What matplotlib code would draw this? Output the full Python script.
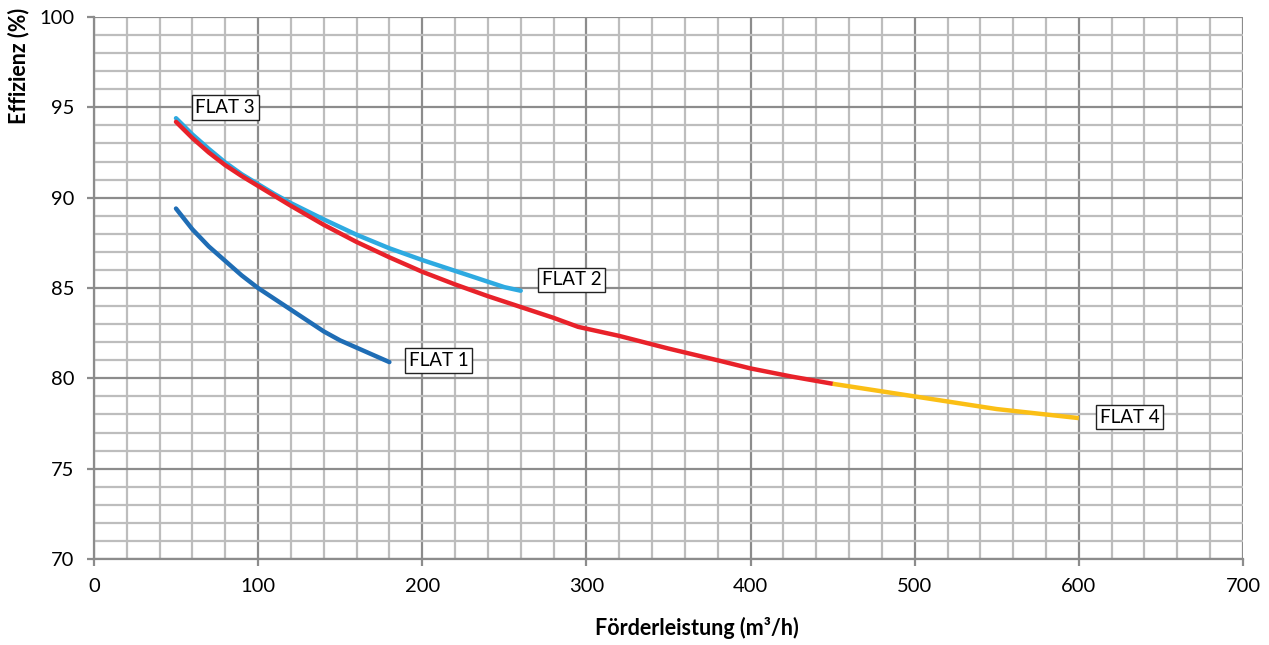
import matplotlib
matplotlib.use("Agg")
import matplotlib.pyplot as plt
from matplotlib.ticker import MultipleLocator

plt.rcParams['font.family'] = ['Lato', 'DejaVu Sans']

flat1_x = [50, 60, 70, 80, 90, 100, 110, 120, 130, 140, 150, 160, 170, 180]
flat1_y = [89.4, 88.25, 87.3, 86.5, 85.7, 85.0, 84.4, 83.8, 83.2, 82.6, 82.1, 81.7, 81.3, 80.9]

flat2_x = [50, 60, 70, 80, 90, 100, 110, 120, 140, 160, 180, 200, 220, 240, 250, 260]
flat2_y = [94.4, 93.5, 92.7, 91.95, 91.3, 90.75, 90.2, 89.7, 88.8, 87.95, 87.2, 86.55, 85.95, 85.35, 85.05, 84.85]

flat3_x = [50, 60, 70, 80, 90, 100, 110, 120, 140, 160, 180, 200, 220, 240, 260, 280, 295, 320, 350, 380, 400, 425, 450]
flat3_y = [94.2, 93.3, 92.5, 91.8, 91.2, 90.65, 90.1, 89.55, 88.5, 87.55, 86.7, 85.9, 85.2, 84.55, 83.95, 83.35, 82.85, 82.35, 81.65, 81.0, 80.55, 80.1, 79.7]

flat4_x = [450, 475, 500, 525, 550, 575, 600]
flat4_y = [79.7, 79.35, 79.0, 78.65, 78.3, 78.05, 77.8]

labels = ["FLAT 1", "FLAT 2", "FLAT 3", "FLAT 4"]
label_x = [210, 291, 80, 631]
label_y = [81.0, 85.45, 95.0, 77.85]

colors = ["#1f6db5", "#2eaae1", "#e8222a", "#fbbf15"]

fig = plt.figure(figsize=(12.69, 6.45), dpi=100)
ax = fig.add_axes([0.074, 0.1333, 0.9055, 0.8403])

ax.set_xlim(0, 700)
ax.set_ylim(70, 100)
ax.xaxis.set_major_locator(MultipleLocator(100))
ax.xaxis.set_minor_locator(MultipleLocator(20))
ax.yaxis.set_major_locator(MultipleLocator(5))
ax.yaxis.set_minor_locator(MultipleLocator(1))
ax.grid(which='minor', color='#bdbdbd', linewidth=1.6)
ax.grid(which='major', color='#8c8c8c', linewidth=1.6)
ax.set_axisbelow(True)
for s in ['top', 'right']:
    ax.spines[s].set_visible(False)
for s in ['left', 'bottom']:
    ax.spines[s].set_color('#8c8c8c')
    ax.spines[s].set_linewidth(1.6)
ax.tick_params(which='major', length=5, width=1.6, color='#8c8c8c', labelsize=14.5, pad=9)
ax.tick_params(which='minor', length=0)

ax.plot(flat1_x, flat1_y, color=colors[0], lw=3.2, solid_capstyle='round', solid_joinstyle='round', zorder=3)
ax.plot(flat2_x, flat2_y, color=colors[1], lw=3.2, solid_capstyle='round', solid_joinstyle='round', zorder=3)
ax.plot(flat3_x, flat3_y, color=colors[2], lw=3.2, solid_capstyle='round', solid_joinstyle='round', zorder=4)
ax.plot(flat4_x, flat4_y, color=colors[3], lw=3.2, solid_capstyle='butt', solid_joinstyle='round', zorder=4)

for t, x, y in zip(labels, label_x, label_y):
    ax.text(x, y, t, fontsize=13.5, ha='center', va='center', zorder=5,
            bbox=dict(boxstyle='square,pad=0.2', facecolor='white', edgecolor='#222222', linewidth=1))

ax.set_xlabel('Förderleistung (m³/h)', fontsize=15.5, fontweight='bold')
ax.set_ylabel('Effizienz (%)', fontsize=15.5, fontweight='bold')
ax.xaxis.set_label_coords(0.5248, -0.1273)
ax.xaxis.label.set_va('center')
ax.yaxis.set_label_coords(-0.066, 0.9096)
ax.yaxis.label.set_va('center')

fig.savefig('out.png', dpi=100)
